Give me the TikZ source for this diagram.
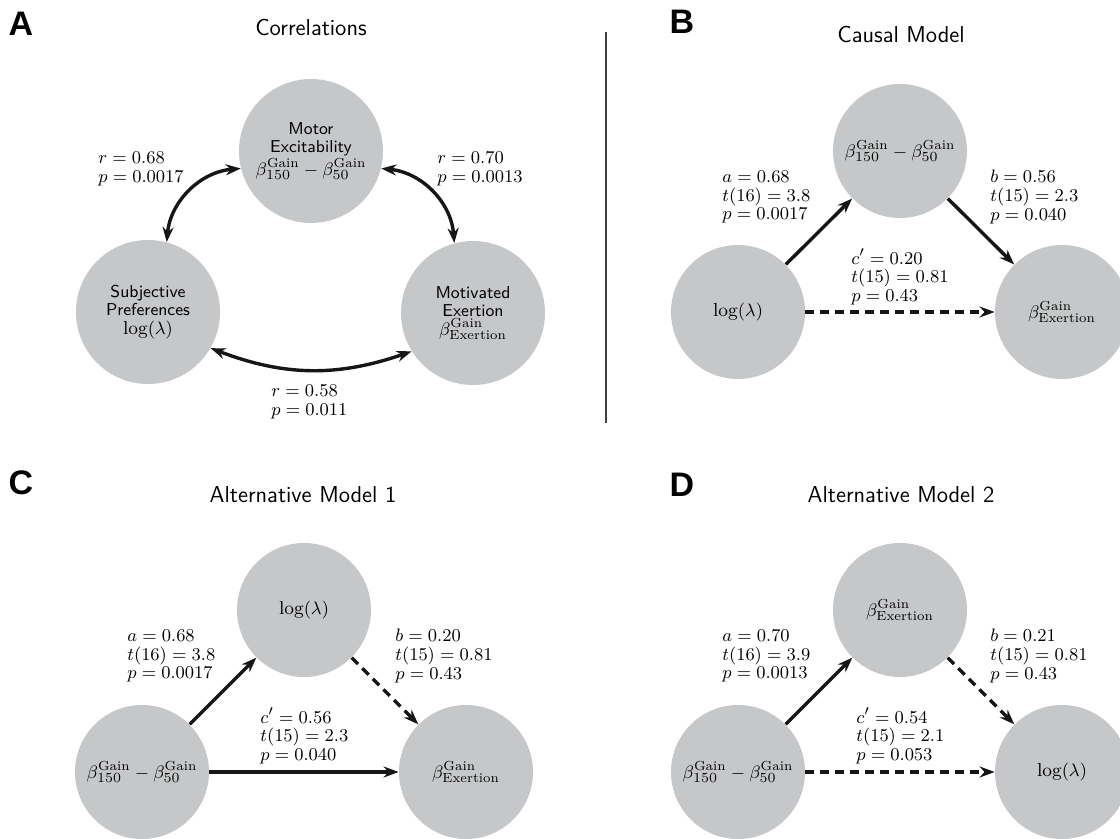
\documentclass[tikz,border=0pt]{standalone}
\usepackage{fontspec}
\newfontfamily\panelfont{Liberation Sans}[BoldFont={Liberation Sans Bold}]
\usetikzlibrary{arrows.meta}
\definecolor{circgray}{RGB}{198,199,201}
\definecolor{ink}{RGB}{22,22,22}
\newcommand{\bdiff}{$\beta^{\mathrm{Gain}}_{150}-\beta^{\mathrm{Gain}}_{50}$}
\newcommand{\bexer}{$\beta^{\mathrm{Gain}}_{\mathrm{Exertion}}$}
\newcommand{\mfs}{\fontsize{9.4}{9.25}\selectfont}
\begin{document}
\begin{tikzpicture}[x=0.5pt,y=-0.5pt,
  bigc/.style={circle, fill=circgray, minimum size=72pt, inner sep=0pt, align=center, font=\sffamily\fontsize{8.6}{9.25}\selectfont},
  smc/.style={circle, fill=circgray, minimum size=67pt, inner sep=0pt, align=center, font=\mfs},
  stat/.style={anchor=west, inner sep=0pt, align=left, font=\fontsize{9.5}{9.3}\selectfont},
  ttl/.style={font=\sffamily\fontsize{11.5}{12}\selectfont, anchor=base, inner sep=0pt},
  plet/.style={font=\panelfont\bfseries\fontsize{17}{17}\selectfont, inner sep=0pt},
  tip/.style={},
  conn/.style={line width=1.7pt, draw=ink, -{Stealth[length=7.5pt,width=5.5pt]}},
  dconn/.style={conn, dash pattern=on 4.5pt off 3pt},
  corr/.style={line width=1.7pt, draw=ink, {Stealth[length=7.5pt,width=5.5pt]}-{Stealth[length=7.5pt,width=5.5pt]}},
]
\useasboundingbox (0,0) rectangle (1120,839);
\clip (0,0) rectangle (1120,839);

% ---------- Panel A ----------
\node[plet] (la) at (21,24) {A};
\node[ttl] (ta) at (311,36) {Correlations};
\node[bigc] (motor) at (311,151) {Motor\\Excitability\\{\mfs\bdiff}};
\node[bigc] (subj) at (148,312) {Subjective\\Preferences\\{\mfs$\log(\lambda)$}};
\node[bigc] (motiv) at (473,313) {Motivated\\Exertion\\{\mfs\bexer}};
\draw[corr] (subj.75) to[bend left=40] (motor.194);
\draw[corr] (motor.-14) to[bend left=40] (motiv.105);
\draw[corr] (subj.-30) to[bend right=20] (motiv.212);
\node[stat] (sa1) at (98,169) {$r=0.68$\\$p=0.0017$};
\node[stat] (sa2) at (437,169) {$r=0.70$\\$p=0.0013$};
\node[stat] (sa3) at (271,402) {$r=0.58$\\$p=0.011$};

% divider
\coordinate (dtop) at (606,32);
\coordinate (dbot) at (606,423);
\draw[line width=0.6pt, draw=black!75] (dtop) -- (dbot);

% ---------- Panel B ----------
\node[plet] (lb) at (682,22) {B};
\node[ttl] (tb) at (901,43) {Causal Model};
\node[smc] (bt) at (900,151) {\bdiff};
\node[smc] (bl) at (738,312) {$\log(\lambda)$};
\node[smc] (br) at (1062,312) {\bexer};
\draw[conn] (bl) -- (bt);
\draw[conn] (bt) -- (br);
\draw[dconn] (bl) -- (br);
\node[stat] (sb1) at (722,197) {$a=0.68$\\$t(16)=3.8$\\$p=0.0017$};
\node[stat] (sb2) at (990,197) {$b=0.56$\\$t(15)=2.3$\\$p=0.040$};
\node[stat] (sb3) at (851,277) {$c'=0.20$\\$t(15)=0.81$\\$p=0.43$};

% ---------- Panel C ----------
\node[plet] (lc) at (21,483) {C};
\node[ttl] (tc) at (303,503) {Alternative Model 1};
\node[smc] (ct) at (304,610) {$\log(\lambda)$};
\node[smc] (cl) at (142,772) {\bdiff};
\node[smc] (cr) at (466,772) {\bexer};
\draw[conn] (cl) -- (ct);
\draw[dconn] (ct) -- (cr);
\draw[conn] (cl) -- (cr);
\node[stat] (sc1) at (127,656) {$a=0.68$\\$t(16)=3.8$\\$p=0.0017$};
\node[stat] (sc2) at (395,656) {$b=0.20$\\$t(15)=0.81$\\$p=0.43$};
\node[stat] (sc3) at (260,736) {$c'=0.56$\\$t(15)=2.3$\\$p=0.040$};

% ---------- Panel D ----------
\node[plet] (ld) at (682,485) {D};
\node[ttl] (td) at (901,503) {Alternative Model 2};
\node[smc] (dt) at (900,610) {\bexer};
\node[smc] (dl) at (738,772) {\bdiff};
\node[smc] (dr) at (1062,772) {$\log(\lambda)$};
\draw[conn] (dl) -- (dt);
\draw[dconn] (dt) -- (dr);
\draw[dconn] (dl) -- (dr);
\node[stat] (sd1) at (722,656) {$a=0.70$\\$t(16)=3.9$\\$p=0.0013$};
\node[stat] (sd2) at (990,656) {$b=0.21$\\$t(15)=0.81$\\$p=0.43$};
\node[stat] (sd3) at (856,736) {$c'=0.54$\\$t(15)=2.1$\\$p=0.053$};
\end{tikzpicture}
\end{document}
